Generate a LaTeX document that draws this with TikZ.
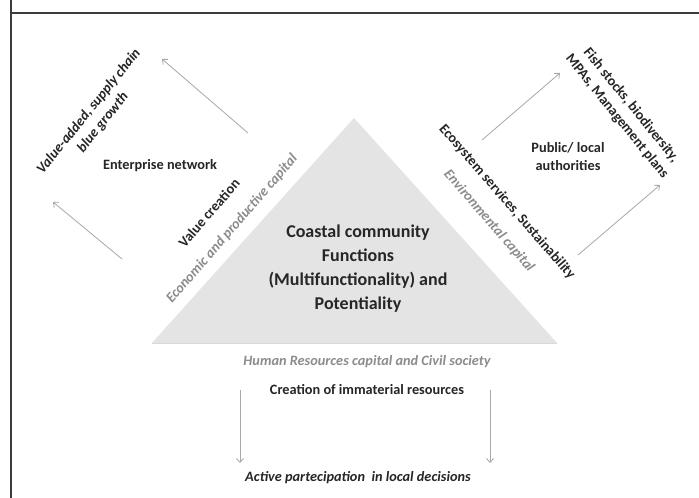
\documentclass[tikz,border=0pt]{standalone}
\usepackage{fontspec}
\setmainfont{Carlito}
\usetikzlibrary{arrows.meta}
\definecolor{trifill}{HTML}{E4E4E4}
\definecolor{txtdark}{HTML}{262626}
\definecolor{capgray}{HTML}{8C8C8C}
\definecolor{arrgray}{HTML}{A8A8A8}
\definecolor{framegray}{HTML}{3C3C3C}
\tikzset{
  lbl/.style={font=\bfseries\fontsize{14.3}{18}\selectfont, text=txtdark, align=center, inner sep=1pt},
  lblit/.style={lbl, font=\bfseries\itshape\fontsize{14.3}{18}\selectfont},
  capital/.style={font=\bfseries\itshape\fontsize{14.3}{18}\selectfont, text=capgray, inner sep=1pt},
  arr/.style={draw=arrgray, line width=0.8pt, -{Straight Barb[length=4pt,width=7pt]}}
}
\begin{document}
\begin{tikzpicture}[x=1pt, y=-1pt]
  \useasboundingbox (0,0) rectangle (699,498);
  \fill[white] (0,0) rectangle (699,498);

  % frame
  \draw[framegray, line width=1.3pt] (11,0) -- (11,498);
  \draw[framegray, line width=1.3pt] (11,13) -- (699,13);

  % triangle
  \fill[trifill] (152,343) -- (354,118) -- (557,343) -- cycle;
  \draw[black!15, line width=0.6pt] (152,343) -- (557,343);

  \node[lbl, font=\bfseries\fontsize{18}{24}\selectfont] (core) at (358,269)
    {Coastal community\\Functions\\(Multifunctionality) and\\Potentiality};

  % left side
  \node[lbl] (valcre) at (209,213) [rotate=49] {Value creation};
  \node[capital] (econ) at (232,229) [rotate=49] {Economic and productive capital};
  \node[lbl] (enterp) at (160,166) {Enterprise network};
  \node[lblit] (valadd) at (96,117) [rotate=51] {Value-added, supply chain\\blue growth};

  % right side
  \node[lbl] (ecosys) at (507,202) [rotate=-49] {Ecosystem services, Sustainability};
  \node[capital] (envcap) at (489,221) [rotate=-49] {Environmental capital};
  \node[lbl] (public) at (568,157) {Public/ local\\authorities};
  \node[lbl] (fish) at (624,111) [rotate=-51] {Fish stocks, biodiversity,\\MPAs, Management plans};

  % bottom
  \node[capital] (human) at (367,362) {Human Resources capital and Civil society};
  \node[lbl] (immat) at (367,390) {Creation of immaterial resources};
  \node[lblit] (active) at (358,478) {Active partecipation~ in local decisions};

  % arrow ends
  \coordinate (lt1) at (248,133); \coordinate (lh1) at (162,59);
  \coordinate (lt2) at (122,259); \coordinate (lh2) at (53,202);
  \coordinate (rt1) at (482,140); \coordinate (rh1) at (560,73);
  \coordinate (rt2) at (578,255); \coordinate (rh2) at (660,185);
  \coordinate (bt1) at (240,390); \coordinate (bh1) at (240,463);
  \coordinate (bt2) at (490,390); \coordinate (bh2) at (490,463);

  \draw[arr] (lt1) -- (lh1);
  \draw[arr] (lt2) -- (lh2);
  \draw[arr] (rt1) -- (rh1);
  \draw[arr] (rt2) -- (rh2);
  \draw[arr] (bt1) -- (bh1);
  \draw[arr] (bt2) -- (bh2);
\end{tikzpicture}
\end{document}
